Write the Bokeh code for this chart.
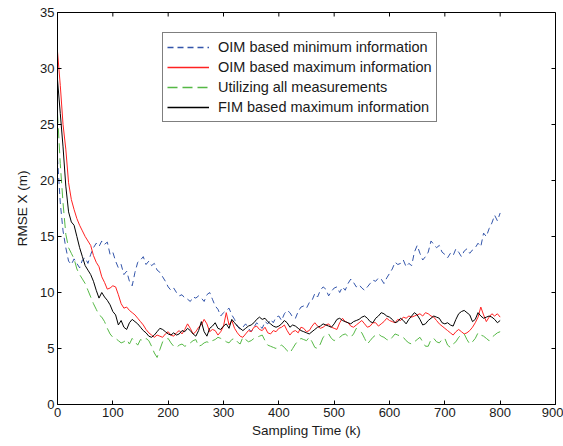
from bokeh.plotting import figure
from bokeh.models import Range1d, FixedTicker, Legend, LegendItem
from bokeh.embed import file_html
from bokeh.resources import INLINE

K = list(range(0, 801, 5))

oim_min = [22.0, 18.0, 15.5, 14.0, 12.8, 12.5, 13.0, 12.6, 12.2, 12.9,
           13.1, 12.6, 13.4, 14.0, 14.4, 14.1, 14.6, 14.3, 14.5, 13.4,
           13.6, 12.8, 12.2, 12.5, 11.6, 11.9, 11.0, 10.6, 11.8, 12.7,
           12.9, 13.2, 12.5, 12.8, 12.4, 12.6, 12.0, 11.8, 11.4, 11.0,
           10.5, 10.2, 10.4, 10.0, 9.7, 9.8, 9.5, 9.4, 9.2, 9.6,
           9.5, 9.7, 9.5, 9.2, 9.8, 10.0, 9.4, 8.8, 8.5, 7.9,
           8.2, 8.4, 8.6, 8.0, 7.6, 7.0, 6.7, 6.9, 7.2, 6.8,
           6.5, 6.9, 7.3, 7.0, 6.8, 7.4, 7.2, 7.6, 7.3, 7.8,
           7.9, 7.5, 8.1, 8.4, 8.2, 7.8, 7.7, 8.3, 8.7, 8.8,
           8.6, 9.1, 9.3, 9.9, 9.6, 10.2, 10.5, 10.3, 9.7, 10.1,
           10.4, 10.5, 10.0, 10.5, 10.2, 10.8, 11.2, 10.9, 10.5, 10.7,
           10.4, 10.2, 10.5, 10.8, 11.1, 11.0, 11.3, 11.2, 10.8, 11.3,
           11.7, 12.1, 12.7, 12.5, 12.6, 12.9, 12.3, 12.6, 12.4, 13.6,
           14.2, 13.5, 12.9, 13.2, 13.6, 14.6, 14.3, 14.0, 14.2, 13.6,
           13.4, 13.1, 13.5, 13.3, 13.9, 13.6, 13.2, 13.7, 13.9, 13.5,
           13.8, 14.0, 14.4, 14.1, 15.3, 15.0, 15.7, 16.2, 16.9, 16.4,
           17.1]

oim_max = [31.5, 28.5, 25.0, 22.8, 19.8, 18.3, 17.4, 16.6, 16.0, 15.5,
           15.0, 14.6, 14.2, 13.3, 12.7, 12.3, 11.4, 10.9, 10.3, 10.4,
           10.6, 10.5, 9.8, 9.0, 8.6, 8.7, 8.4, 8.2, 8.0, 7.7,
           7.4, 7.1, 6.7, 6.4, 6.2, 6.0, 6.2, 6.1, 6.0, 6.3,
           6.5, 6.2, 6.1, 6.4, 6.6, 6.3, 6.7, 7.2, 6.8, 6.3,
           6.5, 6.9, 7.1, 7.6, 7.2, 6.5, 6.7, 6.6, 6.2, 6.5,
           7.0, 8.2, 7.1, 7.5, 6.8, 6.4, 6.1, 6.0, 6.3, 6.6,
           6.5, 6.9, 7.0, 6.7, 6.6, 6.9, 6.4, 6.3, 6.6, 6.5,
           6.8, 6.9, 7.1, 6.6, 6.2, 6.5, 6.6, 6.4, 6.9, 6.8,
           6.5, 6.6, 7.0, 7.3, 7.0, 6.8, 6.9, 7.1, 7.2, 6.9,
           6.8, 6.7, 7.3, 7.7, 7.4, 7.3, 7.0, 6.9, 7.1, 7.3,
           7.5, 7.2, 6.9, 7.0, 7.3, 7.3, 7.0, 7.2, 7.4, 7.7,
           7.5, 7.4, 7.3, 7.6, 7.5, 7.8, 7.7, 7.9, 7.8, 7.9,
           8.0, 8.1, 7.9, 8.2, 8.1, 7.9, 7.8, 7.5, 7.2, 7.0,
           6.8, 6.6, 6.4, 6.2, 6.5, 6.7, 6.5, 6.3, 6.4, 6.6,
           6.9, 7.3, 7.8, 8.7, 8.0, 7.4, 7.8, 8.1, 7.9, 8.1,
           7.8]

all_meas = [26.0, 21.5, 18.0, 15.2, 14.0, 13.5, 13.0, 12.1, 11.6, 11.2,
            10.8, 10.2, 9.6, 9.0, 8.5, 8.0, 7.8, 7.4, 6.8, 6.3,
            6.0, 5.9, 5.7, 5.5, 5.6, 5.8, 5.4, 5.9, 5.6, 5.3,
            5.8, 5.7, 5.9, 5.7, 5.2, 4.6, 4.2, 4.9, 5.6, 5.8,
            5.9, 5.5, 5.2, 5.1, 5.3, 5.4, 5.2, 5.3, 5.5, 5.7,
            5.8, 5.2, 5.3, 5.5, 5.6, 5.5, 5.7, 5.8, 6.0, 5.9,
            5.8, 5.6, 5.5, 5.8, 5.9, 5.6, 5.4, 6.0, 5.8, 5.6,
            5.7, 5.9, 6.0, 6.1, 6.2, 5.7, 5.3, 5.2, 5.1, 5.0,
            5.2, 5.3, 5.1, 4.8, 4.6, 5.0, 5.4, 5.7, 5.9, 5.8,
            5.7, 6.0, 5.6, 5.1, 5.0, 5.4, 6.0, 6.2, 6.3, 5.9,
            5.7, 5.9, 6.0, 6.2, 6.3, 6.1, 6.0, 6.3, 6.8, 6.6,
            6.4, 5.9, 5.4, 5.7, 6.0, 6.2, 6.3, 6.1, 6.0, 5.8,
            5.7, 6.0, 6.3, 6.2, 6.1, 6.0, 5.7, 5.5, 5.4, 5.6,
            5.8, 6.0, 5.6, 5.2, 5.2, 5.8, 5.9, 5.6, 5.5, 5.8,
            5.9, 5.3, 5.1, 5.4, 5.6, 6.0, 6.2, 6.3, 5.8, 5.4,
            5.6, 5.9, 6.4, 6.2, 6.1, 5.9, 5.7, 6.0, 6.2, 6.4,
            6.5]

fim_max = [29.0, 26.0, 23.0, 19.5, 17.2, 16.3, 16.0, 15.0, 14.0, 13.2,
           12.4, 12.0, 11.6, 11.0, 10.2, 9.5, 10.0, 9.6, 9.3, 8.9,
           8.3, 8.0, 7.1, 7.5, 6.9, 6.7, 7.3, 7.6, 7.4, 7.2,
           6.9, 6.6, 6.4, 6.1, 6.0, 6.2, 6.5, 6.8, 6.7, 6.5,
           6.3, 6.2, 6.4, 6.2, 6.3, 6.6, 6.5, 6.8, 6.6, 6.3,
           6.1, 6.6, 7.4, 6.5, 6.1, 6.8, 7.0, 7.3, 6.8, 6.7,
           7.0, 7.2, 6.8, 7.6, 7.3, 7.0, 6.8, 6.6, 6.8, 7.0,
           7.1, 7.3, 7.6, 7.8, 7.6, 7.7, 7.4, 7.2, 7.0, 6.9,
           7.0, 7.2, 7.5, 7.3, 6.9, 7.1, 7.0, 6.8, 6.6, 6.5,
           6.4, 6.3, 6.5, 6.7, 6.9, 7.0, 7.2, 7.1, 7.0, 6.9,
           7.2, 7.6, 7.7, 7.5, 7.4, 7.3, 7.2, 7.4, 7.5, 7.6,
           7.8, 7.9, 7.7, 7.4, 7.3, 7.7, 7.9, 8.2, 8.1, 7.9,
           7.8, 7.6, 7.3, 7.4, 7.7, 7.5, 7.2, 7.6, 7.9, 8.2,
           8.0, 7.6, 7.1, 7.2, 7.5, 7.7, 7.9, 7.8, 7.7, 7.3,
           7.2, 7.3, 7.1, 7.0, 7.6, 8.1, 8.3, 8.4, 8.2, 8.0,
           7.4, 7.6, 8.2, 7.9, 7.7, 7.8, 7.9, 7.8, 7.6, 7.3,
           7.5]

labels = ["OIM based minimum information", "OIM based maximum information",
          "Utilizing all measurements", "FIM based maximum information"]
colors = ["#3355aa", "#ff2222", "#55b845", "#000000"]
dashes = ["6 4", "solid", "10 5", "solid"]
x_ticks = [0, 100, 200, 300, 400, 500, 600, 700, 800, 900]
y_ticks = [0, 5, 10, 15, 20, 25, 30, 35]
X_MIN, X_MAX = 0, 900
Y_MIN, Y_MAX = 0, 35

FONT = "Liberation Sans"
W, H = 563, 446
BL, BR, BT, BB = 57, 8, 12, 42

p = figure(width=W, height=H, output_backend="svg", toolbar_location=None,
           x_range=Range1d(X_MIN, X_MAX), y_range=Range1d(Y_MIN, Y_MAX),
           min_border_left=BL, min_border_right=BR, min_border_top=BT,
           min_border_bottom=BB)
p.background_fill_color = "white"
p.border_fill_color = "white"
p.outline_line_color = "black"
p.outline_line_width = 1
p.xgrid.visible = False
p.ygrid.visible = False

series = [oim_min, oim_max, all_meas, fim_max]
for ys, c, d in zip(series, colors, dashes):
    p.line(K, ys, line_color=c, line_width=1, line_dash=d)

# single-point proxies (draw nothing in the plot) used for legend swatches
proxies = [p.line(K[:1], ys[:1], line_color=c, line_width=1.5, line_dash=d)
           for ys, c, d in zip(series, colors, dashes)]

# inward ticks on the top and right edges of the box (MATLAB style)
tick_px = 4
frame_w = W - BL - BR
frame_h = H - BT - BB
dy = tick_px * (Y_MAX - Y_MIN) / frame_h
dx = tick_px * (X_MAX - X_MIN) / frame_w
p.segment(x0=x_ticks, y0=[Y_MAX] * len(x_ticks), x1=x_ticks,
          y1=[Y_MAX - dy] * len(x_ticks), line_color="black", line_width=1)
p.segment(x0=[X_MAX] * len(y_ticks), y0=y_ticks, x1=[X_MAX - dx] * len(y_ticks),
          y1=y_ticks, line_color="black", line_width=1)

for ax in p.xaxis + p.yaxis:
    ax.major_tick_in = tick_px
    ax.major_tick_out = 0
    ax.minor_tick_in = 0
    ax.minor_tick_out = 0
    ax.major_label_text_font = FONT
    ax.major_label_text_font_size = "13px"
    ax.major_label_text_color = "#1a1a1a"
    ax.axis_label_text_font = FONT
    ax.axis_label_text_font_size = "13.5px"
    ax.axis_label_text_font_style = "normal"
    ax.axis_label_text_color = "#1a1a1a"
    ax.axis_line_color = "black"

p.xaxis.ticker = FixedTicker(ticks=x_ticks)
p.yaxis.ticker = FixedTicker(ticks=y_ticks)
p.xaxis.axis_label = "Sampling Time (k)"
p.yaxis.axis_label = "RMSE X (m)"
p.xaxis.major_label_standoff = 3
p.yaxis.major_label_standoff = 3
p.xaxis.axis_label_standoff = 3
p.yaxis.axis_label_standoff = 7

legend = Legend(items=[LegendItem(label=l, renderers=[r])
                       for l, r in zip(labels, proxies)],
                location=(105, 282))
legend.label_text_font = FONT
legend.label_text_font_size = "14.5px"
legend.label_text_color = "#1a1a1a"
legend.glyph_width = 42
legend.glyph_height = 20
legend.label_height = 20
legend.spacing = 0
legend.padding = 4
legend.margin = 0
legend.label_standoff = 9
legend.border_line_color = "black"
legend.border_line_width = 1.5
legend.background_fill_color = "white"
legend.background_fill_alpha = 1
p.add_layout(legend, "center")

open("out.html", "w").write(file_html(p, INLINE))
